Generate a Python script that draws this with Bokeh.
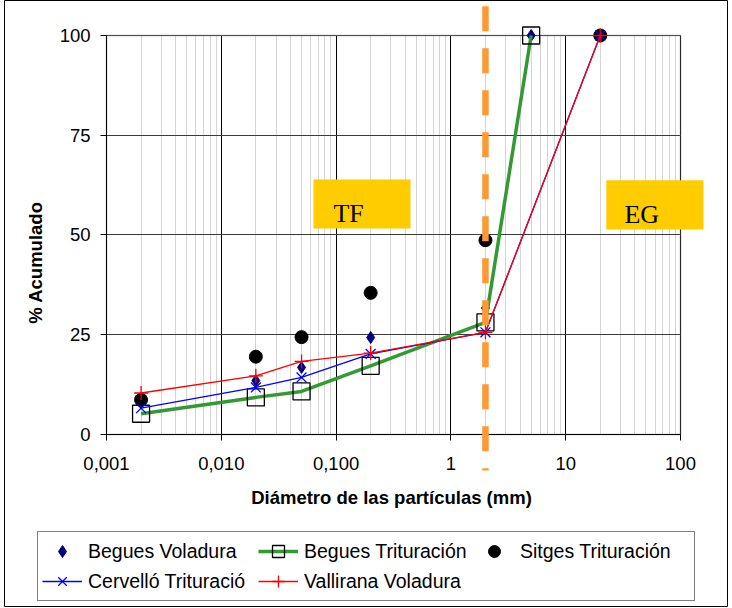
import math
from bokeh.plotting import figure
from bokeh.models import (Range1d, FixedTicker, CustomJSTickFormatter, Legend, LegendItem,
                          Arrow, BoxAnnotation, Label)
from bokeh.embed import file_html
from bokeh.resources import INLINE

# ---------------- data ----------------
begues_vol_x = [0.002, 0.02, 0.05, 0.2, 2, 5]
begues_vol_y = [8.0, 13.5, 16.8, 24.3, 31.7, 100]

begues_tri_x = [0.002, 0.02, 0.05, 0.2, 2, 5]
begues_tri_y = [5.2, 9.3, 10.8, 17.2, 28.1, 100]

sitges_x = [0.002, 0.02, 0.05, 0.2, 2, 20]
sitges_y = [8.7, 19.5, 24.4, 35.5, 48.7, 100]

cervello_x = [0.002, 0.02, 0.05, 0.2, 2, 20]
cervello_y = [6.6, 11.8, 14.3, 20.2, 25.6, 100]

vallirana_x = [0.002, 0.02, 0.05, 0.2, 2, 20]
vallirana_y = [10.4, 14.7, 18.3, 20.4, 25.6, 100]

x_ticks = [0.001, 0.01, 0.1, 1, 10, 100]
x_tick_labels = ["0,001", "0,010", "0,100", "1", "10", "100"]
y_ticks = [0, 25, 50, 75, 100]
boundary_mm = 2
zone_labels = ["TF", "EG"]

FONT = "Liberation Sans"
minor = [m * 10.0 ** e for e in range(-3, 2) for m in range(2, 10)]

# canvas layout: the frame covers the whole chart area; the axes sit at fixed data positions
X_LO, X_HI = 10 ** -3.8885, 10 ** 2.4094
Y_LO, Y_HI = -43.11, 108.77

p = figure(width=728, height=607, x_axis_type="log",
           x_range=Range1d(X_LO, X_HI), y_range=Range1d(Y_LO, Y_HI),
           output_backend="svg", toolbar_location=None,
           min_border_left=4, min_border_right=1, min_border_top=0, min_border_bottom=1)
p.background_fill_color = "white"
p.border_fill_color = "white"
p.outline_line_color = "black"
p.outline_line_width = 1

# axes
p.xaxis.ticker = FixedTicker(ticks=x_ticks, minor_ticks=minor)
p.xaxis.formatter = CustomJSTickFormatter(args=dict(vals=x_ticks, labels=x_tick_labels), code="""
for (let i = 0; i < vals.length; i++) {
  if (Math.abs(Math.log10(tick) - Math.log10(vals[i])) < 1e-6) return labels[i];
}
return "";
""")
p.yaxis.ticker = FixedTicker(ticks=y_ticks)
p.xaxis.fixed_location = 0
p.xaxis.bounds = (x_ticks[0], x_ticks[-1])
p.yaxis.fixed_location = x_ticks[0]
p.yaxis.bounds = (y_ticks[0], y_ticks[-1])
for ax in (p.xaxis[0], p.yaxis[0]):
    ax.major_tick_in = 0
    ax.major_tick_out = 6
    ax.major_tick_line_color = "black"
    ax.minor_tick_line_color = None
    ax.axis_line_color = "black"
    ax.major_label_text_font = FONT
    ax.major_label_text_font_size = "18.5px"
    ax.major_label_text_color = "black"
p.xaxis.major_label_standoff = 17
p.yaxis.major_label_standoff = 10

# grids
p.xgrid.grid_line_color = "black"
p.xgrid.minor_grid_line_color = "#D4D4D4"
p.ygrid.grid_line_color = "#3C3C3C"
xg, yg = p.xgrid[0], p.ygrid[0]
if "cross_bounds" in xg.properties():
    xg.cross_bounds = (y_ticks[0], y_ticks[-1])
    yg.cross_bounds = (x_ticks[0], x_ticks[-1])
else:
    for kw in (dict(top=y_ticks[0]), dict(bottom=y_ticks[-1]),
               dict(right=x_ticks[0]), dict(left=x_ticks[-1])):
        p.add_layout(BoxAnnotation(fill_color="white", fill_alpha=1, line_color=None,
                                   level="underlay", **kw))
yg.bounds = (y_ticks[0], y_ticks[-1])
xg.bounds = (x_ticks[0], x_ticks[-1])

# grey border of the plot area
p.add_layout(BoxAnnotation(left=x_ticks[0], right=x_ticks[-1], bottom=y_ticks[0], top=y_ticks[-1],
                           fill_alpha=0, line_color="#808080", line_width=2, level="underlay"))

# series
r_bv = p.scatter(begues_vol_x, begues_vol_y, marker="diamond", size=12, color="#000080")
r_bt_line = p.line(begues_tri_x, begues_tri_y, line_color="#339933", line_width=3.5)
r_bt_pts = p.scatter(begues_tri_x, begues_tri_y, marker="square", size=17,
                     fill_alpha=0, line_color="black", line_width=1.3)
r_sg = p.scatter(sitges_x, sitges_y, marker="circle", size=13, color="black")
r_cv_line = p.line(cervello_x, cervello_y, line_color="#0000FF", line_width=1.3)
r_cv_pts = p.scatter(cervello_x, cervello_y, marker="x", size=14, line_color="#0000FF", line_width=1.3)
r_vl_line = p.line(vallirana_x, vallirana_y, line_color="#FF0000", line_width=1.3)
r_vl_pts = p.scatter(vallirana_x, vallirana_y, marker="cross", size=14, line_color="#FF0000", line_width=1.3)

# zone boxes and labels
p.add_layout(BoxAnnotation(left=0.0635, right=0.4446, bottom=51.6, top=63.9,
                           fill_color="#FFCC00", fill_alpha=1, line_color=None))
p.add_layout(BoxAnnotation(left=22.6, right=158.5, bottom=51.4, top=63.7,
                           fill_color="#FFCC00", fill_alpha=1, line_color=None))
p.add_layout(Label(x=0.0949, y=55.4, text=zone_labels[0], text_font="Liberation Serif",
                   text_font_size="26px", text_color="black", text_baseline="alphabetic"))
p.add_layout(Label(x=32.5, y=55.1, text=zone_labels[1], text_font="Liberation Serif",
                   text_font_size="26px", text_color="black", text_baseline="alphabetic"))

# boundary dashed line
p.add_layout(Arrow(end=None, x_start=boundary_mm, y_start=107.3, x_end=boundary_mm, y_end=-9,
                   line_color="#FF9933", line_width=6.5, line_dash="25 17"))

# axis titles
p.add_layout(Label(x=10 ** -3.6185, y=43.1, text="% Acumulado", angle=math.pi / 2,
                   text_font=FONT, text_font_style="bold", text_font_size="18.5px",
                   text_color="black", text_align="center", text_baseline="middle"))
p.add_layout(Label(x=10 ** -0.5174, y=-15.8, text="Diámetro de las partículas (mm)",
                   text_font=FONT, text_font_style="bold", text_font_size="18.5px",
                   text_color="black", text_align="center", text_baseline="middle"))

legend = Legend(items=[
    LegendItem(label="Begues Voladura", renderers=[r_bv]),
    LegendItem(label="Begues Trituración", renderers=[r_bt_line, r_bt_pts]),
    LegendItem(label="Sitges Trituración", renderers=[r_sg]),
    LegendItem(label="Cervelló Trituració", renderers=[r_cv_line, r_cv_pts]),
    LegendItem(label="Vallirana Voladura", renderers=[r_vl_line, r_vl_pts]),
], location=(33, 5), orientation="horizontal", ncols=3)
legend.label_text_font = FONT
legend.label_text_font_size = "19.5px"
legend.label_text_color = "black"
legend.glyph_width = 40
legend.glyph_height = 30
legend.label_height = 30
legend.label_width = 170
legend.label_standoff = 6
legend.spacing = 0
legend.padding = 4
legend.margin = 0
legend.border_line_color = "black"
legend.border_line_width = 1
legend.background_fill_alpha = 1
p.add_layout(legend)

open("out.html", "w").write(file_html(p, INLINE))
